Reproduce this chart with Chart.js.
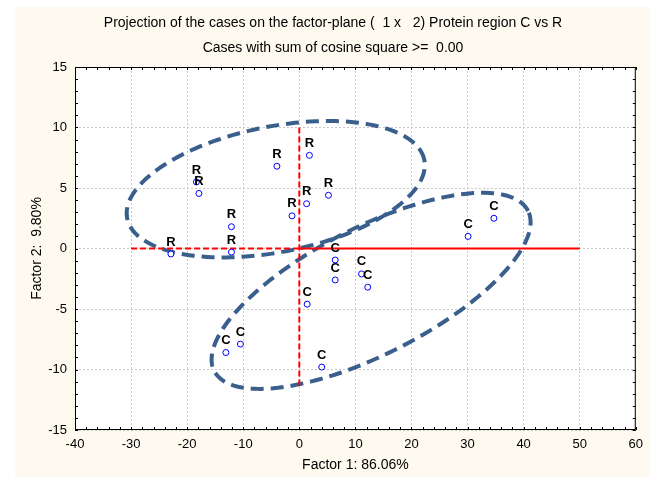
<!DOCTYPE html>
<html>
<head>
<meta charset="utf-8">
<script src="https://cdn.jsdelivr.net/npm/chart.js@4/dist/chart.umd.min.js"></script>
<style>
  html, body { margin: 0; padding: 0; background: #fff; }
  #wrap { width: 650px; height: 477px; }
</style>
</head>
<body>
<div id="wrap"><canvas id="chart" width="650" height="477"></canvas></div>
<script>
// Coordenadas de los casos en el plano factorial (Factor 1 x Factor 2)
const casesRX = [-22.9, -18.35, -17.9, -12.1, -12.1, -4.0, 1.8, -1.3, 1.3, 5.2];
const casesRY = [-0.45, 5.5, 4.55, 1.8, -0.3, 6.8, 7.7, 2.7, 3.7, 4.4];
const casesCX = [6.4, 6.4, 11.1, 12.2, 1.4, -10.5, -13.1, 4.0, 30.1, 34.7];
const casesCY = [-0.95, -2.6, -2.1, -3.2, -4.6, -7.9, -8.6, -9.8, 1.0, 2.5];
const groupNames = ['R', 'C'];

// Ejes de referencia en rojo
const axisLeftX = [-30, 0];
const axisRightX = [0, 50];
const axisVertY = [10, -11.5];

// Ticks de los ejes
const xTicks = [-40, -30, -20, -10, 0, 10, 20, 30, 40, 50, 60];
const yTicks = [-15, -10, -5, 0, 5, 10, 15];

// Elipses de agrupacion: centro y dos semiejes (unidades de los datos)
const ellipseCenterR = [-4.2, 4.9];
const ellipseAxisR1 = [26.5, 2.4];
const ellipseAxisR2 = [-2.1, 5.1];
const ellipseCenterC = [12.8, -3.5];
const ellipseAxisC1 = [28.0, 6.6];
const ellipseAxisC2 = [-5.0, 4.7];

const titleText = 'Projection of the cases on the factor-plane (  1 x   2) Protein region C vs R';
const subtitleText = 'Cases with sum of cosine square >=  0.00';

const FONT = '"Liberation Sans", Arial, sans-serif';

function toPoints(xs, ys) {
  return xs.map((x, i) => ({ x: x, y: ys[i] }));
}

// Fondo crema, area blanca y titulos
const backgroundPlugin = {
  id: 'background',
  beforeDraw(chart) {
    const { ctx, chartArea } = chart;
    ctx.save();
    ctx.fillStyle = '#ffffff';
    ctx.fillRect(0, 0, chart.width, chart.height);
    ctx.fillStyle = '#fefaf0';
    ctx.fillRect(15, 7, chart.width - 15, chart.height - 7);
    ctx.fillStyle = '#ffffff';
    ctx.fillRect(chartArea.left, chartArea.top, chartArea.right - chartArea.left, chartArea.bottom - chartArea.top);

    ctx.fillStyle = '#000';
    ctx.font = '14px ' + FONT;
    ctx.textAlign = 'center';
    ctx.textBaseline = 'middle';
    ctx.fillText(titleText, 333, 23);
    ctx.fillText(subtitleText, 333, 48);
    ctx.restore();
  }
};

// Elipses discontinuas
const ellipsePlugin = {
  id: 'ellipses',
  beforeDatasetsDraw(chart) {
    const { ctx, scales } = chart;
    const list = [
      [ellipseCenterR, ellipseAxisR1, ellipseAxisR2],
      [ellipseCenterC, ellipseAxisC1, ellipseAxisC2]
    ];
    ctx.save();
    ctx.strokeStyle = '#3a5f8c';
    ctx.lineWidth = 4;
    ctx.setLineDash([13, 7]);
    list.forEach(([c, a, b]) => {
      ctx.beginPath();
      const steps = 180;
      for (let i = 0; i <= steps; i++) {
        const t = (i / steps) * Math.PI * 2;
        const dx = c[0] + a[0] * Math.cos(t) + b[0] * Math.sin(t);
        const dy = c[1] + a[1] * Math.cos(t) + b[1] * Math.sin(t);
        const px = scales.x.getPixelForValue(dx);
        const py = scales.y.getPixelForValue(dy);
        if (i === 0) ctx.moveTo(px, py); else ctx.lineTo(px, py);
      }
      ctx.closePath();
      ctx.stroke();
    });
    ctx.restore();
  }
};

// Marco negro con marcas menores y etiquetas de los casos
const framePlugin = {
  id: 'frame',
  afterDatasetsDraw(chart) {
    const { ctx, chartArea, scales } = chart;
    const { left, right, top, bottom } = chartArea;
    ctx.save();
    ctx.strokeStyle = '#000';
    ctx.lineWidth = 1;
    ctx.strokeRect(left + 0.5, top + 0.5, right - left - 1, bottom - top - 1);

    ctx.beginPath();
    for (let v = -40; v <= 60; v += 2) {
      const px = Math.round(scales.x.getPixelForValue(v)) + 0.5;
      ctx.moveTo(px, bottom); ctx.lineTo(px, bottom - 3);
      ctx.moveTo(px, top); ctx.lineTo(px, top + 3);
    }
    for (let v = -15; v <= 15; v += 1) {
      const py = Math.round(scales.y.getPixelForValue(v)) + 0.5;
      ctx.moveTo(left, py); ctx.lineTo(left + 3, py);
      ctx.moveTo(right, py); ctx.lineTo(right - 3, py);
    }
    ctx.stroke();

    // Letra del grupo encima de cada caso
    ctx.fillStyle = '#000';
    ctx.font = 'bold 13px ' + FONT;
    ctx.textAlign = 'center';
    ctx.textBaseline = 'middle';
    [0, 1].forEach(di => {
      const meta = chart.getDatasetMeta(di);
      meta.data.forEach(pt => {
        ctx.fillText(groupNames[di], pt.x, pt.y - 12);
      });
    });
    ctx.restore();
  }
};

const pointStyle = {
  type: 'scatter',
  pointRadius: 3,
  pointHoverRadius: 3,
  pointBorderColor: '#0000ff',
  pointBackgroundColor: '#ffffff',
  pointBorderWidth: 1,
  showLine: false
};

const redLine = {
  type: 'line',
  borderColor: '#ff0000',
  borderWidth: 2,
  pointRadius: 0,
  fill: false,
  tension: 0
};

const ctx = document.getElementById('chart').getContext('2d');
const chart = new Chart(ctx, {
  type: 'scatter',
  data: {
    datasets: [
      Object.assign({ label: 'R', data: toPoints(casesRX, casesRY) }, pointStyle),
      Object.assign({ label: 'C', data: toPoints(casesCX, casesCY) }, pointStyle),
      Object.assign({ label: 'h1', data: toPoints(axisLeftX, [0, 0]), borderDash: [6, 3] }, redLine),
      Object.assign({ label: 'h2', data: toPoints(axisRightX, [0, 0]) }, redLine),
      Object.assign({ label: 'v', data: toPoints([0, 0], axisVertY), borderDash: [6, 3] }, redLine)
    ]
  },
  options: {
    responsive: false,
    animation: false,
    events: [],
    layout: { padding: { left: 15, top: 67, right: 12, bottom: 0 } },
    plugins: {
      legend: { display: false },
      tooltip: { enabled: false },
      title: { display: false }
    },
    scales: {
      x: {
        type: 'linear',
        min: xTicks[0],
        max: xTicks[xTicks.length - 1],
        afterBuildTicks: scale => { scale.ticks = xTicks.map(v => ({ value: v })); },
        afterFit: scale => { scale.height = 47; },
        ticks: { color: '#000', font: { family: FONT, size: 13 }, padding: 7, maxRotation: 0 },
        grid: { color: '#c8c8c8', drawTicks: false, lineWidth: 1 },
        border: { display: false, dash: [2, 2] },
        title: {
          display: true,
          text: 'Factor 1: 86.06%',
          color: '#000',
          font: { family: FONT, size: 14 },
          padding: { top: 0, bottom: 3 }
        }
      },
      y: {
        type: 'linear',
        min: yTicks[0],
        max: yTicks[yTicks.length - 1],
        afterBuildTicks: scale => { scale.ticks = yTicks.map(v => ({ value: v })); },
        afterFit: scale => { scale.width = 60; },
        ticks: { color: '#000', font: { family: FONT, size: 13 }, padding: 8 },
        grid: { color: '#c8c8c8', drawTicks: false, lineWidth: 1 },
        border: { display: false, dash: [2, 2] },
        title: {
          display: true,
          text: 'Factor 2:  9.80%',
          color: '#000',
          font: { family: FONT, size: 14 },
          padding: { top: 14, bottom: 0 }
        }
      }
    }
  },
  plugins: [backgroundPlugin, ellipsePlugin, framePlugin]
});
</script>
</body>
</html>
